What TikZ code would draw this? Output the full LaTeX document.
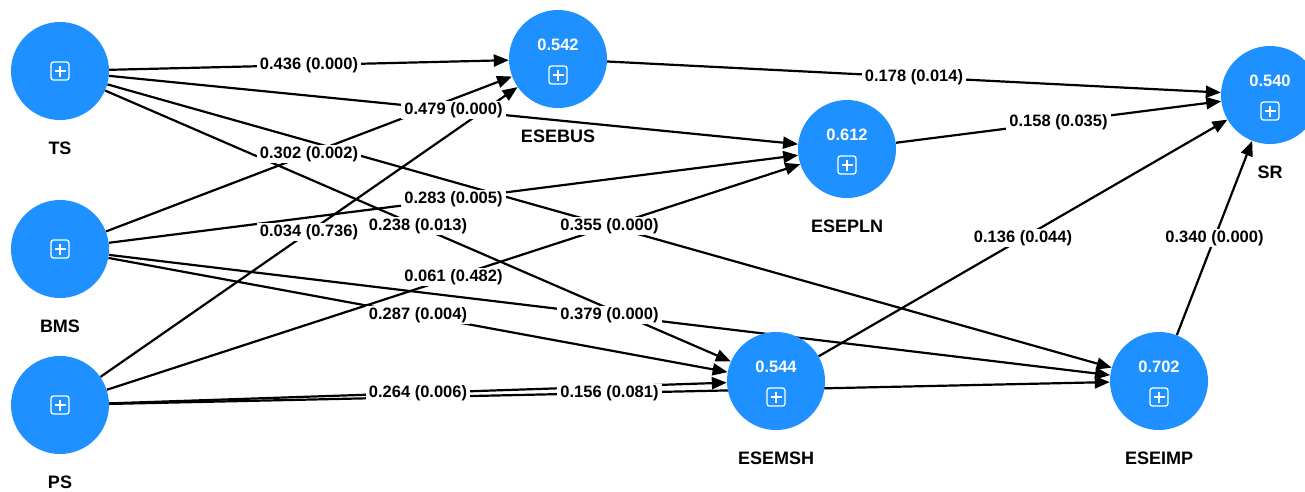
\documentclass[tikz,border=0pt]{standalone}
\usepackage{fontspec}
\setmainfont{Liberation Sans}
\usetikzlibrary{arrows.meta,backgrounds}
\definecolor{nodeblue}{RGB}{30,144,255}
\tikzset{
  lv/.style={circle, fill=nodeblue, minimum size=98pt, inner sep=0pt},
  link/.style={line width=2.2pt, -{Triangle[length=15pt,width=12pt]}},
  coef/.style={fill=white, inner xsep=3pt, inner ysep=1pt, text=black,
    font=\bfseries\fontsize{16.5}{18}\selectfont},
  rsq/.style={text=white, inner sep=0pt, font=\bfseries\fontsize{16.5}{18}\selectfont},
  lvname/.style={inner sep=0pt, font=\bfseries\fontsize{18}{20}\selectfont},
  pics/plusbox/.style={code={
    \draw[white, line width=1.3pt, rounded corners=2.5pt] (-9,-9) rectangle (9,9);
    \draw[white, line width=1.3pt] (-5.5,0) -- (5.5,0) (0,-5.5) -- (0,5.5);
  }}
}
\begin{document}
\begin{tikzpicture}[x=1pt,y=-1pt]
\useasboundingbox (0,0) rectangle (1305,491);
\clip (0,0) rectangle (1305,491);
% latent variables
\node[lv] (TS) at (60,71) {};
\node[lv] (BMS) at (60,249) {};
\node[lv] (PS) at (60,405) {};
\node[lv] (ESEBUS) at (558,59) {};
\node[lv] (ESEPLN) at (847,149) {};
\node[lv] (SR) at (1270,95) {};
\node[lv] (ESEMSH) at (776,381) {};
\node[lv] (ESEIMP) at (1159,381) {};
% icons and values
\foreach \n in {TS,BMS,PS} { \path (\n.center) pic {plusbox}; }
\foreach \n/\v in {ESEBUS/0.542,ESEPLN/0.612,SR/0.540,ESEMSH/0.544,ESEIMP/0.702} {
  \path (\n.center) ++(0,16) pic {plusbox};
  \path (\n.center) ++(0,-14) node[rsq] (val-\n) {\v};
}
% names
\foreach \n in {TS,BMS,PS,ESEBUS,ESEPLN,SR,ESEMSH,ESEIMP} {
  \path (\n.center) ++(0,77) node[lvname] (name-\n) {\n};
}
% paths
\def\edgelist{TS/ESEBUS/{0.436 (0.000)},TS/ESEPLN/{0.479 (0.000)},TS/ESEMSH/{0.238 (0.013)},TS/ESEIMP/{0.355 (0.000)},
BMS/ESEBUS/{0.302 (0.002)},BMS/ESEPLN/{0.283 (0.005)},BMS/ESEMSH/{0.287 (0.004)},BMS/ESEIMP/{0.379 (0.000)},
PS/ESEBUS/{0.034 (0.736)},PS/ESEPLN/{0.061 (0.482)},PS/ESEMSH/{0.264 (0.006)},PS/ESEIMP/{0.156 (0.081)},
ESEBUS/SR/{0.178 (0.014)},ESEPLN/SR/{0.158 (0.035)},ESEMSH/SR/{0.136 (0.044)},ESEIMP/SR/{0.340 (0.000)}}
\begin{scope}[on background layer]
\foreach \a/\b/\t in \edgelist { \draw[link] (\a) -- (\b); }
\end{scope}
\foreach \a/\b/\t in \edgelist { \path (\a) -- (\b) node[coef, midway] (lab-\a-\b) {\t}; }
\end{tikzpicture}
\end{document}
